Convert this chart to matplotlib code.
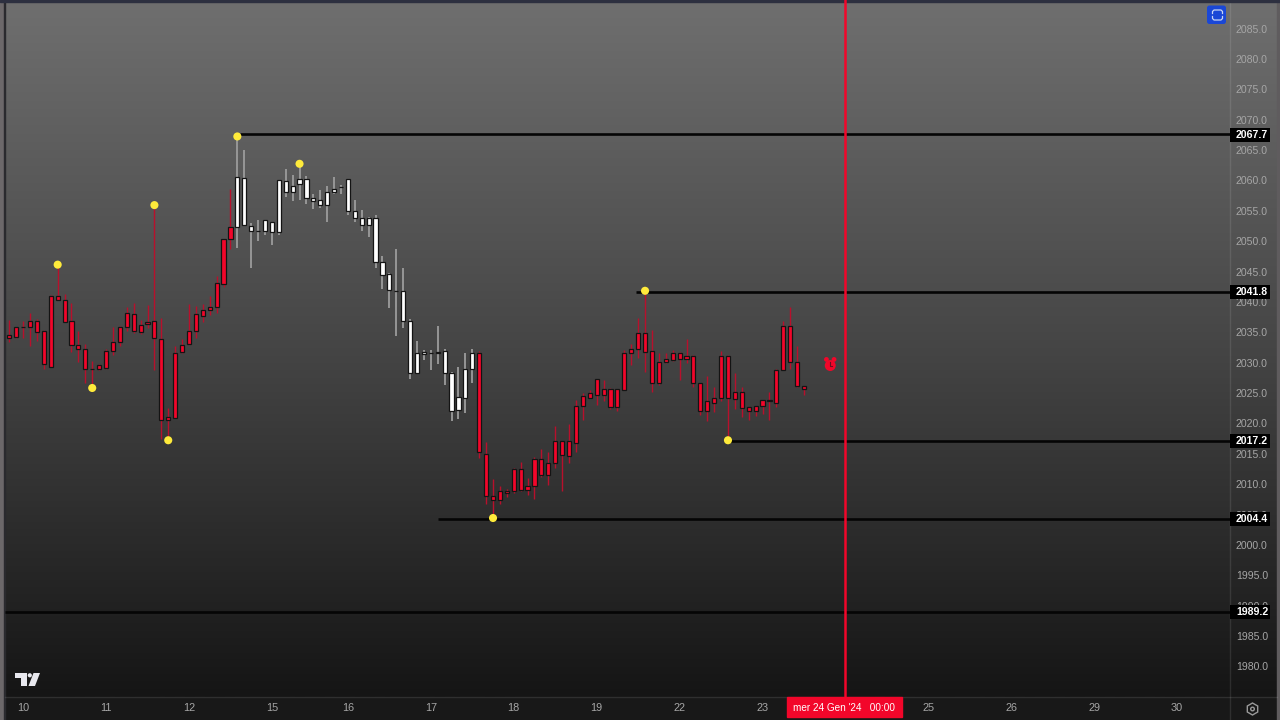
import numpy as np
import matplotlib.pyplot as plt
from matplotlib.colors import LinearSegmentedColormap
from matplotlib.patches import Circle, FancyBboxPatch, Polygon, Rectangle, RegularPolygon

# candles, one row per bar: high, body top, body bottom, low
high = [2037.2,2036.1,2037.0,2038.4,2037.3,2035.5,2041.3,2046.2,2041.5,2040.0,2035.3,2033.2,2030.5,2029.9,2032.5,2036.0,2036.2,2039.4,2040.0,2037.2,2039.7,2056.1,2037.6,2022.7,2032.9,2034.1,2039.8,2039.5,2039.8,2041.2,2044.5,2050.5,2058.7,
        2067.4,2065.1,2053.2,2053.6,2053.6,2053.4,2060.3,2062.0,2061.0,2062.9,2060.9,2057.9,2058.6,2059.3,2060.7,2059.4,2060.4,2057.0,2055.3,2054.1,2054.5,2047.7,2044.9,2048.9,2045.8,2037.4,2033.7,2032.3,2032.3,2036.2,2032.4,2028.7,2029.5,2031.7,2032.5,
        2032.1,2017.1,2011.0,2009.9,2009.3,2012.8,2013.9,2011.2,2014.7,2015.9,2015.5,2019.8,2017.2,2020.0,2024.0,2025.2,2025.7,2027.4,2027.3,2026.0,2025.8,2032.2,2033.2,2037.5,2042.1,2035.5,2031.7,2031.8,2032.2,2032.0,2034.0,2031.4,2026.9,2028.0,2026.1,2032.1,2031.4,2028.4,2026.1,2022.9,2023.1,2024.1,2025.3,2029.1,2037.1,2039.4,2032.9,2026.3]
body_top = [2034.8,2036.0,2036.1,2037.1,2037.1,2035.4,2041.2,2041.1,2040.5,2037.0,2033.0,2032.5,2029.2,2029.8,2032.1,2033.6,2036.1,2038.3,2038.1,2036.3,2036.9,2037.0,2034.1,2021.2,2031.8,2033.1,2035.4,2038.1,2038.9,2039.4,2043.2,2050.5,2052.5,
            2060.7,2060.6,2052.7,2051.9,2053.6,2053.4,2060.3,2060.1,2059.3,2060.4,2060.4,2057.3,2057.0,2058.3,2058.8,2059.1,2060.4,2055.2,2054.0,2054.0,2054.0,2046.8,2044.7,2042.0,2041.9,2037.0,2031.7,2031.9,2031.8,2032.0,2032.1,2028.4,2024.5,2029.1,2031.7,
            2031.7,2015.1,2008.3,2009.0,2009.0,2012.7,2012.7,2009.9,2014.3,2014.3,2013.6,2017.2,2017.2,2017.2,2023.0,2024.6,2025.1,2027.4,2025.9,2025.9,2025.8,2031.8,2032.5,2035.1,2035.1,2032.1,2030.2,2030.7,2031.7,2031.7,2031.3,2031.3,2026.8,2023.8,2024.4,2031.3,2031.3,2025.3,2025.3,2022.9,2023.0,2024.1,2024.1,2029.0,2036.2,2036.2,2030.2,2026.3]
body_bottom = [2034.3,2034.4,2036.0,2036.0,2035.2,2029.9,2029.5,2040.5,2036.9,2033.0,2032.5,2029.1,2029.1,2029.1,2029.3,2032.1,2033.6,2036.0,2035.4,2035.2,2036.5,2034.3,2020.7,2020.7,2021.1,2031.9,2033.2,2035.4,2037.9,2038.8,2039.3,2043.1,2050.6,
               2052.5,2052.9,2051.8,2051.9,2051.8,2051.7,2051.7,2058.2,2058.2,2059.5,2057.2,2056.7,2056.2,2056.1,2058.2,2059.0,2055.1,2054.0,2052.9,2052.9,2046.7,2044.6,2042.2,2041.9,2037.0,2028.4,2028.5,2031.6,2031.7,2031.7,2028.4,2022.2,2022.4,2024.4,2029.1,
               2015.4,2008.3,2007.6,2007.6,2008.7,2009.0,2009.2,2009.2,2009.9,2011.6,2011.6,2013.6,2014.9,2014.8,2017.0,2023.0,2024.4,2024.9,2024.9,2022.8,2022.8,2025.7,2031.7,2032.5,2032.0,2026.9,2026.9,2030.2,2030.6,2030.8,2030.7,2026.8,2022.2,2022.2,2023.6,2024.4,2024.4,2024.2,2022.7,2022.2,2022.2,2023.1,2023.8,2023.6,2028.9,2030.2,2026.4,2025.9]
low = [2033.6,2034.3,2034.2,2032.9,2033.7,2029.2,2029.5,2040.5,2036.9,2032.0,2030.3,2026.9,2025.9,2029.0,2029.2,2031.4,2032.9,2035.3,2035.1,2034.9,2035.8,2029.0,2017.6,2017.3,2021.0,2031.8,2033.1,2034.3,2036.8,2038.0,2038.3,2042.7,2048.8,
       2049.1,2052.8,2045.8,2050.2,2051.2,2049.5,2051.2,2057.5,2056.8,2057.0,2056.3,2055.5,2055.7,2053.3,2057.9,2058.0,2054.5,2053.4,2051.9,2050.8,2045.8,2042.3,2039.1,2034.6,2035.9,2027.5,2028.3,2030.6,2029.0,2030.0,2026.5,2020.5,2020.9,2021.9,2026.9,
       2014.5,2006.9,2004.5,2006.9,2008.1,2008.7,2009.1,2008.4,2007.7,2011.4,2010.0,2012.9,2009.1,2013.7,2015.5,2020.7,2024.3,2023.2,2023.9,2022.6,2022.2,2025.7,2029.8,2031.0,2028.7,2025.3,2026.5,2030.1,2030.5,2027.3,2030.1,2026.1,2021.5,2020.6,2022.1,2023.9,2017.4,2022.5,2021.3,2020.7,2021.4,2021.8,2020.7,2022.8,2028.9,2029.2,2026.1,2024.9]
white_first = 33   # bars drawn white
white_last = 67

# swing points
swing_bars = [7, 12, 21, 23, 33, 42, 70, 92, 104]
swing_prices = [2046.3, 2026.0, 2056.1, 2017.4, 2067.4, 2062.9, 2004.6, 2042.0, 2017.4]

# levels: first bar of the line, price
level_prices = [2067.7, 2041.8, 2017.2, 2004.4, 1989.2]
level_line_prices = [2067.85, 2041.8, 2017.2, 2004.4, 1989.2]
level_starts = [33.4, 90.7, 104, 62, -0.6]

price_ticks = list(range(1980, 2090, 5))
date_bars = [2, 14, 26, 38, 49, 61, 73, 85, 97, 109, 133, 145, 157, 169]
date_labels = ['10', '11', '12', '15', '16', '17', '18', '19', '22', '23', '25', '26', '29', '30']
cursor_bar = 120.9
cursor_label = "mer 24 Gen '24   00:00"
alarm_bar = 118.8
alarm_price = 2029.7

RED = '#f2062a'
W, H = 1280, 720

fig = plt.figure(figsize=(12.8, 7.2), dpi=100)

# background, full canvas in pixel coords
bg = fig.add_axes([0, 0, 1, 1], zorder=0)
bg.axis('off')
grad = np.linspace(0, 1, 256).reshape(-1, 1)
pane_cmap = LinearSegmentedColormap.from_list('pane', ['#6f6f6f', '#454545', '#151515'])
bg.imshow(grad, extent=[0, W, 697, 0], aspect='auto', cmap=pane_cmap, zorder=0)
bg.set_xlim(0, W)
bg.set_ylim(H, 0)
bg.add_patch(Rectangle((0, 697), W, 23, color='#181818', zorder=1))
bg.add_patch(Rectangle((0, 0), 4, H, color='#6c686a', zorder=2))
bg.add_patch(Rectangle((4, 0), 1.2, H, color='#2a2a2e', zorder=2))
bg.add_patch(Rectangle((0, 0), W, 2, color='#2d3040', zorder=3))
bg.add_patch(Rectangle((1277, 0), 3, H, color='#5f5c5e', zorder=2))
bg.plot([1230, 1230], [0, 720], color='#ffffff', alpha=0.10, lw=1, zorder=2)
bg.plot([5, 1277], [697, 697], color='#ffffff', alpha=0.10, lw=1, zorder=2)

# chart axes over the pane
ax = fig.add_axes([5 / W, 1 - 697 / H, 1225 / W, 697 / H], zorder=1)
ax.patch.set_alpha(0)
ax.set_xlim(-0.622, 176.65)
ax.set_ylim(1975.14, 2089.86)
for s in ax.spines.values():
    s.set_visible(False)
ax.tick_params(left=False, bottom=False, right=False, labelleft=False, labelbottom=False)

bars = np.arange(len(high))
is_white = (bars >= white_first) & (bars <= white_last)
high, low = np.array(high), np.array(low)
body_top, body_bottom = np.array(body_top), np.array(body_bottom)

ax.vlines(bars[~is_white], low[~is_white], high[~is_white], color='#b8102c', lw=1.0, zorder=2)
ax.vlines(bars[is_white], low[is_white], high[is_white], color='#9c9c9c', lw=1.3, zorder=2)
ax.bar(bars[~is_white], (body_top - body_bottom)[~is_white], bottom=body_bottom[~is_white], width=0.6,
       color=RED, edgecolor='#141414', linewidth=0.9, zorder=3)
ax.bar(bars[is_white], (body_top - body_bottom)[is_white], bottom=body_bottom[is_white], width=0.6,
       color='#ffffff', edgecolor='#141414', linewidth=0.9, zorder=3)

for p, start in zip(level_line_prices, level_starts):
    ax.plot([start, 176.65], [p, p], color='#050505', lw=1.9, solid_capstyle='butt', zorder=4)

ax.scatter(swing_bars, swing_prices, s=34, color='#ffeb3b', edgecolor='none', zorder=5)

ax.axvline(cursor_bar, color=RED, lw=1.8, zorder=6)

# alarm icon
ax.scatter([alarm_bar], [alarm_price], s=62, color=RED, edgecolor='none', zorder=5)
ax.scatter([alarm_bar - 0.55, alarm_bar + 0.55], [alarm_price + 1.0, alarm_price + 1.0], s=12, color=RED,
           marker='o', edgecolor='none', zorder=5)
ax.plot([alarm_bar, alarm_bar, alarm_bar + 0.3], [alarm_price + 0.6, alarm_price, alarm_price],
        color='#6a1020', lw=0.8, zorder=6)

# price axis
for p in price_ticks:
    ax.annotate(f'{p:.1f}', xy=(1, p), xycoords=('axes fraction', 'data'), xytext=(6, 0),
                textcoords='offset pixels', color='#a6a6a6', fontsize=7.6, va='center', ha='left',
                family='Liberation Sans', annotation_clip=False, zorder=7)
for p in level_prices:
    ax.add_patch(Rectangle((1, p - 1.15), 40 / 1225, 2.3, transform=ax.get_yaxis_transform(), clip_on=False,
                           fc='#000000', ec='none', zorder=8))
    ax.annotate(f'{p:.1f}', xy=(1, p), xycoords=('axes fraction', 'data'), xytext=(6, 0),
                textcoords='offset pixels', color='white', fontsize=7.6, fontweight='bold', va='center', ha='left',
                family='Liberation Sans', annotation_clip=False, zorder=9)

# date axis
for b, lab in zip(date_bars, date_labels):
    ax.annotate(lab, xy=(b, 0), xycoords=('data', 'axes fraction'), xytext=(0, -11), textcoords='offset pixels',
                color='#a6a6a6', fontsize=7.8, ha='center', va='center', family='Liberation Sans',
                annotation_clip=False, zorder=7)
over = fig.add_axes([0, 0, 1, 1], zorder=2)
over.set_xlim(0, W)
over.set_ylim(H, 0)
over.axis('off')
over.add_patch(Rectangle((787, 697), 115, 20, color=RED, zorder=2))
over.text(844, 708, cursor_label, color='white', fontsize=7.2, ha='center', va='center',
          family='Liberation Sans', zorder=3)

# blue button
over.add_patch(FancyBboxPatch((1207, 5.5), 19, 18.5, boxstyle='round,pad=0,rounding_size=2.5', fc='#1a47d6', ec='none'))
over.plot([1212.5, 1212.5, 1214, 1221, 1222.5, 1222.5], [13.5, 11.5, 10, 10, 11.5, 13.5], color='#c8d4f4', lw=0.9)
over.plot([1212.5, 1212.5, 1214, 1221, 1222.5, 1222.5], [16.5, 18.5, 20, 20, 18.5, 16.5], color='#c8d4f4', lw=0.9)

# TradingView logo
over.add_patch(Polygon([(15, 673), (26.5, 673), (26.5, 686), (20.5, 686), (20.5, 678), (15, 678)], fc='#e8e8ee', ec='none'))
over.add_patch(Polygon([(33.5, 673), (40, 673), (35, 686), (28.5, 686)], fc='#e8e8ee', ec='none'))
over.add_patch(Circle((29.8, 675.3), 2.1, fc='#e8e8ee', ec='none'))

# settings gear
over.add_patch(RegularPolygon((1252.5, 709), 6, radius=6, orientation=np.pi / 2 + np.pi / 6, fc='none', ec='#9a9a9a', lw=1))
over.add_patch(Circle((1252.5, 709), 1.8, fc='none', ec='#9a9a9a', lw=1))

fig.savefig('out.png', dpi=100)
